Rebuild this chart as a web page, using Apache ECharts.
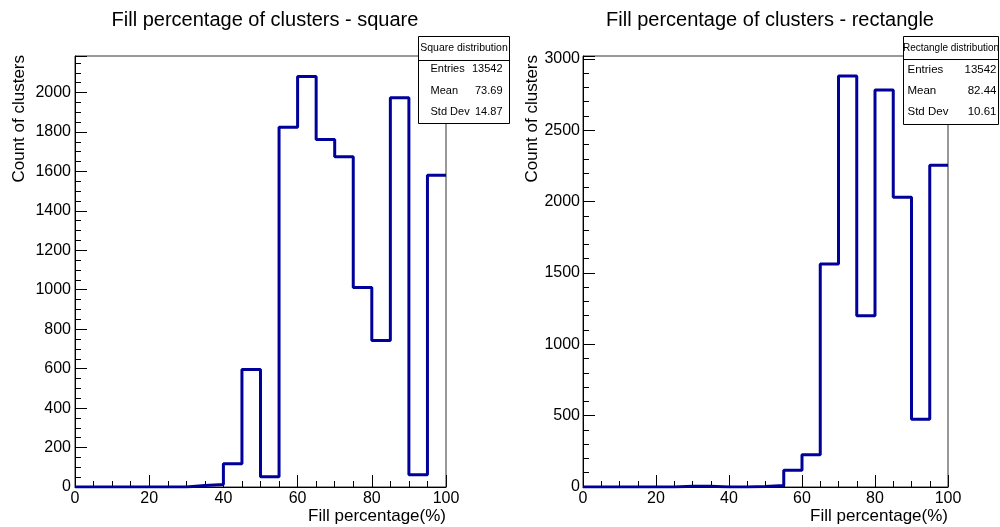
<!DOCTYPE html>
<html>
<head>
<meta charset="utf-8">
<script src="https://cdn.jsdelivr.net/npm/echarts@6/dist/echarts.min.js"></script>
<style>
html,body{margin:0;padding:0;background:#fff;}
#chart{width:1000px;height:527px;}
</style>
</head>
<body>
<div id="chart"></div>
<script>
// ---- data ----
var binEdges = [0,5,10,15,20,25,30,35,40,45,50,55,60,65,70,75,80,85,90,95,100];
var squareCounts = [0,0,0,0,0,0,8,13,118,596,52,1824,2081,1762,1674,1011,743,1973,62,1580];
var rectangleCounts = [0,0,0,0,0,6,6,0,0,4,10,117,226,1563,2880,1200,2782,2030,474,2254];
var titles = ['Fill percentage of clusters - square','Fill percentage of clusters - rectangle'];
var xAxisTitle = 'Fill percentage(%)';
var yAxisTitle = 'Count of clusters';
var statNames = ['Square distribution','Rectangle distribution'];
var statLabels = ['Entries','Mean','Std Dev'];
var squareStats = ['13542','73.69','14.87'];
var rectangleStats = ['13542','82.44','10.61'];
var yMax = [2185, 3020];
var yInterval = [200, 500];
var yMinorSplit = [4, 5];

function stepPoints(counts){
  var pts = [];
  for (var i=0;i<counts.length;i++) pts.push([binEdges[i], counts[i]]);
  pts.push([binEdges[counts.length], counts[counts.length-1]]);
  return pts;
}

var FONT = '"Liberation Sans", Arial, Helvetica, sans-serif';
var chart = echarts.init(document.getElementById('chart'), null, {renderer:'canvas'});

var grids = [
  {left:75, top:56, width:371, height:431},
  {left:583, top:56, width:365, height:431}
];

function plain(v){ return String(v); }

function xAx(i){
  return {
    gridIndex:i, type:'value', min:0, max:100, interval:20,
    name:xAxisTitle, nameLocation:'end', nameGap:0, nameMoveOverlap:false,
    nameTextStyle:{fontFamily:FONT, fontSize:17, color:'#000', align:'right', verticalAlign:'top', padding:[21,0,0,0]},
    axisLine:{show:true, onZero:false, lineStyle:{color:'#000', width:1}},
    axisTick:{show:true, inside:true, length:12, lineStyle:{color:'#000'}},
    minorTick:{show:true, splitNumber:4, length:6, lineStyle:{color:'#000'}},
    splitLine:{show:false},
    axisLabel:{fontFamily:FONT, fontSize:16, color:'#000', margin:4, formatter:plain}
  };
}
function yAx(i){
  return {
    gridIndex:i, type:'value', min:0, max:yMax[i], interval:yInterval[i],
    axisLine:{show:true, onZero:false, lineStyle:{color:'#000', width:1}},
    axisTick:{show:true, inside:true, length:12, lineStyle:{color:'#000'}},
    minorTick:{show:true, splitNumber:yMinorSplit[i], length:6, lineStyle:{color:'#000'}},
    splitLine:{show:false},
    axisLabel:{fontFamily:FONT, fontSize:16, color:'#000', margin:i===0?4:3, showMaxLabel:false, formatter:plain}
  };
}

function statBox(x, y, w, h, sepY, name, nameSize, vals, rowSize, rowYs, padL, padR){
  var children = [
    {type:'rect', shape:{x:x, y:y, width:w, height:h}, style:{fill:'#fff', stroke:'#000', lineWidth:1}},
    {type:'line', shape:{x1:x, y1:sepY, x2:x+w, y2:sepY}, style:{stroke:'#000', lineWidth:1}},
    {type:'text', style:{text:name, x:x+w/2, y:(y+sepY)/2, font:nameSize+'px '+FONT, fill:'#000',
      align:'center', verticalAlign:'middle', textAlign:'center', textVerticalAlign:'middle'}}
  ];
  for (var k=0;k<statLabels.length;k++){
    children.push({type:'text', style:{text:statLabels[k], x:x+padL, y:rowYs[k], font:rowSize+'px '+FONT, fill:'#000',
      align:'left', verticalAlign:'middle', textAlign:'left', textVerticalAlign:'middle'}});
    children.push({type:'text', style:{text:vals[k], x:x+w-padR, y:rowYs[k], font:rowSize+'px '+FONT, fill:'#000',
      align:'right', verticalAlign:'middle', textAlign:'right', textVerticalAlign:'middle'}});
  }
  return {type:'group', z:100, children:children};
}

var option = {
  backgroundColor:'#fff',
  animation:false,
  title:[
    {text:titles[0], left:260, top:5, textAlign:'center', textStyle:{fontFamily:FONT, fontSize:20, fontWeight:'normal', color:'#000'}},
    {text:titles[1], left:765, top:5, textAlign:'center', textStyle:{fontFamily:FONT, fontSize:20, fontWeight:'normal', color:'#000'}}
  ],
  grid: grids.map(function(g){ return Object.assign({show:true, borderColor:'#333', borderWidth:1, backgroundColor:'transparent', containLabel:false}, g); }),
  xAxis:[xAx(0), xAx(1)],
  yAxis:[yAx(0), yAx(1)],
  series:[
    {type:'line', xAxisIndex:0, yAxisIndex:0, step:'end', symbol:'none', data:stepPoints(squareCounts),
      lineStyle:{color:'#00009a', width:3}, itemStyle:{color:'#00009a'}, z:5},
    {type:'line', xAxisIndex:1, yAxisIndex:1, step:'end', symbol:'none', data:stepPoints(rectangleCounts),
      lineStyle:{color:'#00009a', width:3}, itemStyle:{color:'#00009a'}, z:5}
  ],
  graphic:[
    {type:'text', x:19, y:55, rotation:Math.PI/2, style:{text:yAxisTitle, font:'17px '+FONT, fill:'#000',
      align:'right', verticalAlign:'middle', textAlign:'right', textVerticalAlign:'middle'}},
    {type:'text', x:532, y:55, rotation:Math.PI/2, style:{text:yAxisTitle, font:'17px '+FONT, fill:'#000',
      align:'right', verticalAlign:'middle', textAlign:'right', textVerticalAlign:'middle'}},
    statBox(418.5, 36.5, 91, 87, 60.5, statNames[0], 10.5, squareStats, 11, [69,91,112], 12, 7),
    statBox(903.5, 36.5, 95, 88, 59.5, statNames[1], 10, rectangleStats, 11.5, [70,91,112], 4, 2)
  ]
};
chart.setOption(option);
</script>
</body>
</html>
